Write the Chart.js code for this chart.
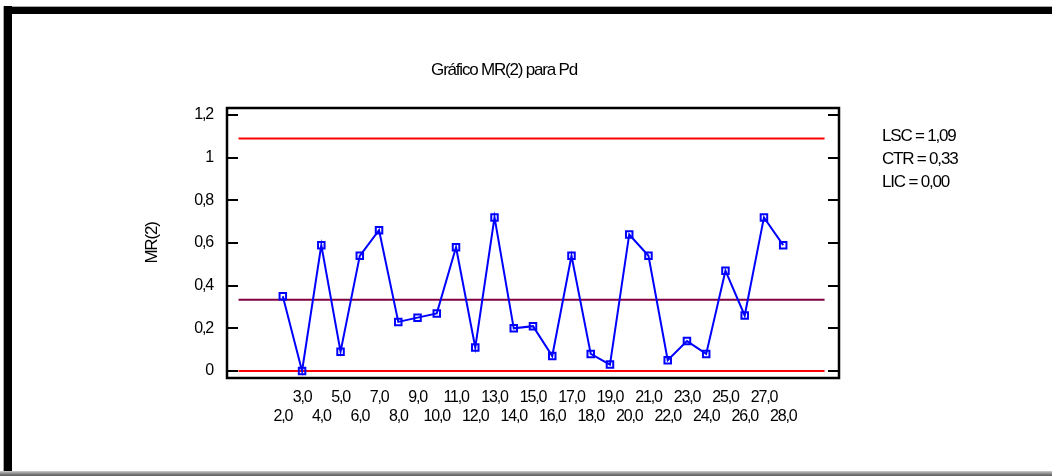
<!DOCTYPE html>
<html>
<head>
<meta charset="utf-8">
<script src="https://cdn.jsdelivr.net/npm/chart.js@4/dist/chart.umd.min.js"></script>
<style>
html, body { margin: 0; padding: 0; background: #fff; }
#marco { position: relative; width: 1052px; height: 476px; overflow: hidden; background: #fff; }
#grafico { position: absolute; left: 0; top: 0; }
.borde-sup { position: absolute; left: 3px; top: 6px; right: 0; height: 7px; background: #000; border-top: 1px solid #a8a8a8; }
.borde-izq { position: absolute; left: 3px; top: 6px; width: 8px; bottom: 4px; background: #000; border-left: 1px solid #a8a8a8; }
.borde-inf { position: absolute; left: 0; right: 0; top: 471px; height: 5px; background: linear-gradient(#d0d0d0, #8c8c8c 50%, #5a5a5a); }
</style>
</head>
<body>
<div id="marco">
  <canvas id="grafico" width="1052" height="476"></canvas>
  <div class="borde-sup"></div>
  <div class="borde-izq"></div>
  <div class="borde-inf"></div>
</div>
<script>
// Datos
const muestras = [2, 3, 4, 5, 6, 7, 8, 9, 10, 11, 12, 13, 14, 15, 16, 17, 18, 19, 20, 21, 22, 23, 24, 25, 26, 27, 28];
const valoresMR = [0.35, 0.00, 0.59, 0.09, 0.54, 0.66, 0.23, 0.25, 0.27, 0.58, 0.11, 0.72, 0.20, 0.21, 0.07,
                   0.54, 0.08, 0.03, 0.64, 0.54, 0.05, 0.14, 0.08, 0.47, 0.26, 0.72, 0.59];
const marcasY = [0, 0.2, 0.4, 0.6, 0.8, 1, 1.2];
const nombresLimites = ['LSC', 'CTR', 'LIC'];
const valoresLimites = [1.09, 0.334, 0.00];
const tramoLimites = [-0.3, 30.15];

const fuente = "'Liberation Sans', Arial, sans-serif";
const espaciado = '-1.2px';
Chart.defaults.font.family = fuente;
Chart.defaults.color = '#000';

function coma(v, dec) {
    return (dec === undefined ? String(Number(v.toFixed(2))) : v.toFixed(dec)).replace('.', ',');
}

function lineaLimite(i, color) {
    return {
        label: nombresLimites[i],
        data: tramoLimites.map(x => ({ x: x, y: valoresLimites[i] })),
        borderColor: color,
        borderWidth: 2,
        pointRadius: 0,
        order: 2
    };
}

// texto estrecho como en el original
const ajusteTexto = {
    id: 'ajusteTexto',
    beforeInit(chart) { chart.ctx.letterSpacing = espaciado; },
    beforeDraw(chart) { chart.ctx.letterSpacing = espaciado; }
};

const marcoGrafico = {
    id: 'marcoGrafico',
    beforeDatasetsDraw(chart) {
        const { ctx, chartArea: a, scales } = chart;
        ctx.save();
        ctx.strokeStyle = '#000';
        ctx.lineWidth = 2.5;
        ctx.strokeRect(a.left, a.top, a.right - a.left, a.bottom - a.top);
        ctx.lineWidth = 2;
        ctx.beginPath();
        marcasY.forEach(v => {
            const y = Math.round(scales.y.getPixelForValue(v));
            ctx.moveTo(a.left, y); ctx.lineTo(a.left + 11, y);
            ctx.moveTo(a.right - 11, y); ctx.lineTo(a.right, y);
        });
        ctx.stroke();
        ctx.restore();
    },
    afterDraw(chart) {
        const { ctx, chartArea: a } = chart;
        ctx.save();
        ctx.font = '17px ' + fuente;
        ctx.fillStyle = '#000';
        ctx.textBaseline = 'middle';
        nombresLimites.forEach((n, i) => {
            ctx.fillText(n + ' = ' + coma(valoresLimites[i], 2), a.right + 43, a.top + 28 + i * 23);
        });
        ctx.restore();
    }
};

new Chart(document.getElementById('grafico').getContext('2d'), {
    type: 'line',
    data: {
        datasets: [
            {
                label: 'MR(2)',
                data: muestras.map((x, i) => ({ x: x, y: valoresMR[i] })),
                borderColor: '#0000ff',
                borderWidth: 2,
                pointStyle: 'rect',
                pointRadius: 4.6,
                pointBorderWidth: 2,
                pointBorderColor: '#0000ff',
                pointBackgroundColor: 'rgba(0,0,0,0)',
                tension: 0,
                order: 1
            },
            lineaLimite(0, '#ff0000'),
            lineaLimite(1, '#800040'),
            lineaLimite(2, '#ff0000')
        ]
    },
    options: {
        responsive: false,
        animation: false,
        events: [],
        layout: { padding: { left: 136, right: 180, top: 0, bottom: 0 } },
        plugins: {
            legend: { display: false },
            tooltip: { enabled: false },
            title: {
                display: true,
                text: 'Gráfico MR(2) para Pd',
                font: { size: 17, weight: 'normal' },
                color: '#000',
                padding: { top: 60, bottom: 27.6 }
            }
        },
        scales: {
            x: {
                type: 'linear',
                min: -0.9,
                max: 30.9,
                afterBuildTicks: s => { s.ticks = muestras.map(v => ({ value: v })); },
                afterFit: s => { s.height = 98; },
                grid: { display: false, drawTicks: false },
                border: { display: false },
                ticks: {
                    autoSkip: false,
                    maxRotation: 0,
                    padding: 10.5,
                    font: { size: 16, lineHeight: 1.1875 },
                    callback: (v) => v % 2 === 1 ? [coma(v, 1), ''] : ['', coma(v, 1)]
                }
            },
            y: {
                min: -0.033,
                max: 1.233,
                afterBuildTicks: s => { s.ticks = marcasY.map(v => ({ value: v })); },
                afterFit: s => { s.width = 91; },
                grid: { display: false, drawTicks: false },
                border: { display: false },
                ticks: {
                    padding: 14,
                    font: { size: 16 },
                    callback: (v) => coma(v)
                },
                title: {
                    display: true,
                    text: 'MR(2)',
                    font: { size: 17 },
                    color: '#000',
                    padding: { top: 6, bottom: 0 }
                }
            },
            y2: {
                position: 'right',
                min: -0.033,
                max: 1.233,
                afterFit: s => { s.width = 33; },
                grid: { display: false, drawTicks: false },
                border: { display: false },
                ticks: { display: false }
            }
        }
    },
    plugins: [ajusteTexto, marcoGrafico]
});
</script>
</body>
</html>
